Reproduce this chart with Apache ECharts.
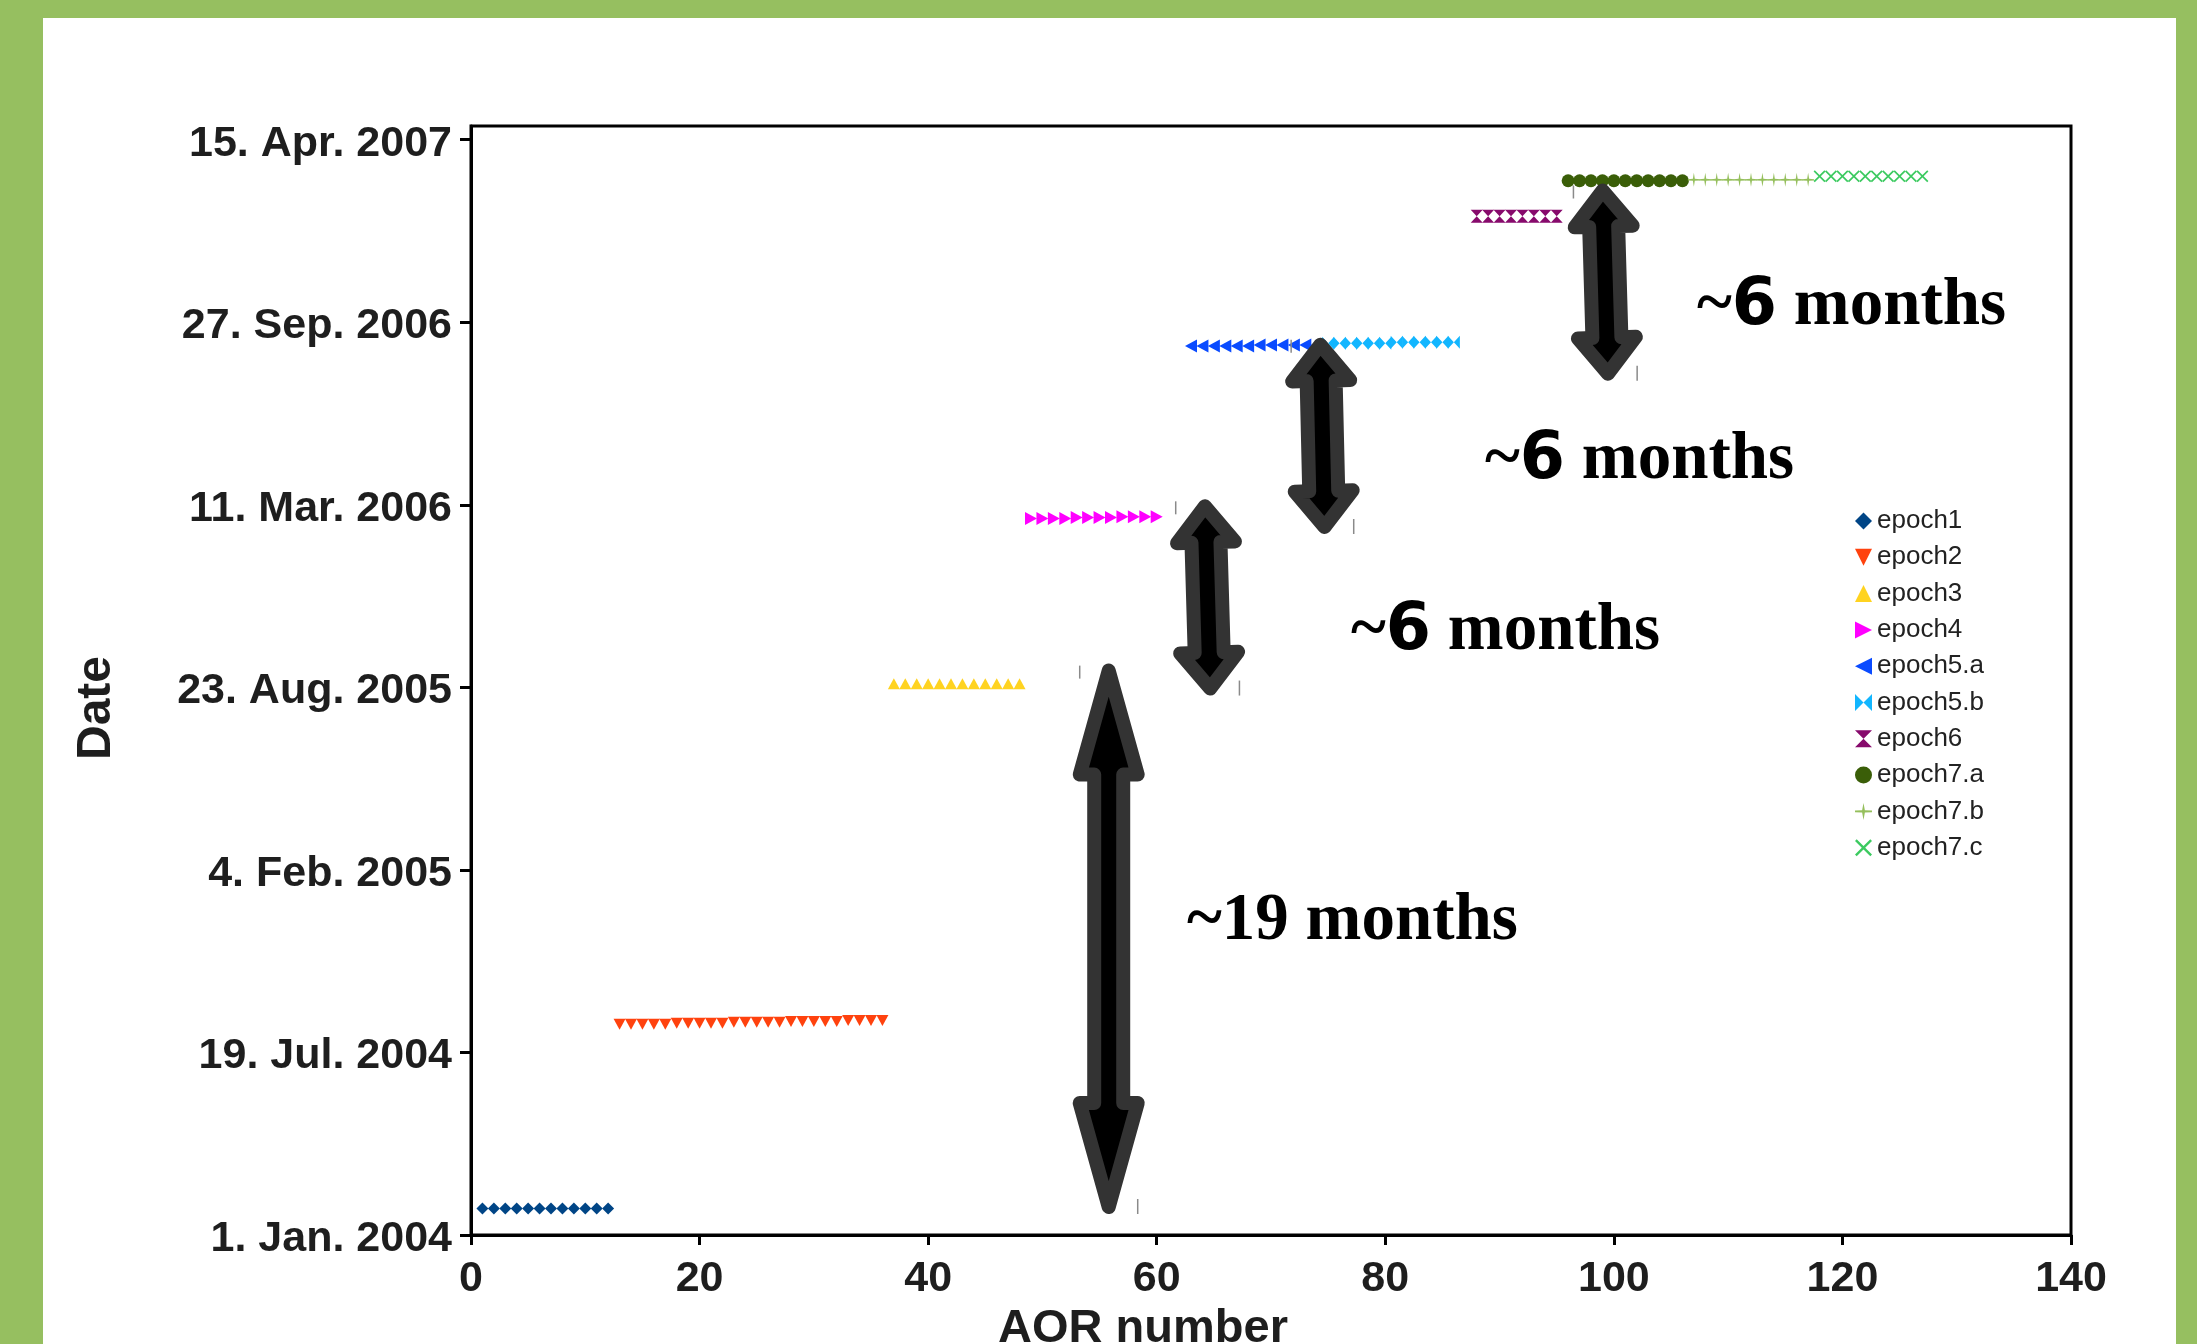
<!DOCTYPE html>
<html>
<head>
<meta charset="utf-8">
<script src="https://cdn.jsdelivr.net/npm/echarts@6/dist/echarts.min.js"></script>
<style>
html,body{margin:0;padding:0;background:#96bf60;}
#wrap{position:relative;width:2197px;height:1344px;background:#96bf60;overflow:hidden;}
#paper{position:absolute;left:43px;top:18px;width:2133px;height:1326px;background:#ffffff;}
#chart{position:absolute;left:0;top:0;width:2197px;height:1344px;}
</style>
</head>
<body>
<div id="wrap"><div id="paper"></div><div id="chart"></div></div>
<script>
// ---------------- data ----------------
const xTickValues = [0, 20, 40, 60, 80, 100, 120, 140];
const yTickValues = [0, 200, 400, 600, 800, 1000, 1200]; // days since 1 Jan 2004
const yTickLabels = ['1. Jan. 2004', '19. Jul. 2004', '4. Feb. 2005', '23. Aug. 2005',
                     '11. Mar. 2006', '27. Sep. 2006', '15. Apr. 2007'];

const seriesNames = ['epoch1', 'epoch2', 'epoch3', 'epoch4', 'epoch5.a', 'epoch5.b',
                     'epoch6', 'epoch7.a', 'epoch7.b', 'epoch7.c'];

const epoch1Aor = [1, 2, 3, 4, 5, 6, 7, 8, 9, 10, 11, 12];
const epoch1Date = ['2004-01-30', '2004-01-30', '2004-01-30', '2004-01-30', '2004-01-30', '2004-01-30',
                    '2004-01-30', '2004-01-30', '2004-01-30', '2004-01-30', '2004-01-30', '2004-01-30'];

const epoch2Aor = [13, 14, 15, 16, 17, 18, 19, 20, 21, 22, 23, 24, 25, 26, 27, 28, 29, 30, 31, 32, 33, 34, 35, 36];
const epoch2Date = ['2004-08-19', '2004-08-19', '2004-08-19', '2004-08-19', '2004-08-19',
                    '2004-08-20', '2004-08-20', '2004-08-20', '2004-08-20', '2004-08-20',
                    '2004-08-21', '2004-08-21', '2004-08-21', '2004-08-21', '2004-08-21',
                    '2004-08-22', '2004-08-22', '2004-08-22', '2004-08-22', '2004-08-22',
                    '2004-08-23', '2004-08-23', '2004-08-23', '2004-08-23'];

const epoch3Aor = [37, 38, 39, 40, 41, 42, 43, 44, 45, 46, 47, 48];
const epoch3Date = ['2005-08-27', '2005-08-27', '2005-08-27', '2005-08-27', '2005-08-27', '2005-08-27',
                    '2005-08-27', '2005-08-27', '2005-08-27', '2005-08-27', '2005-08-27', '2005-08-27'];

const epoch4Aor = [49, 50, 51, 52, 53, 54, 55, 56, 57, 58, 59, 60];
const epoch4Date = ['2006-02-24', '2006-02-24', '2006-02-24', '2006-02-24', '2006-02-25', '2006-02-25',
                    '2006-02-25', '2006-02-25', '2006-02-26', '2006-02-26', '2006-02-26', '2006-02-26'];

const epoch5aAor = [63, 64, 65, 66, 67, 68, 69, 70, 71, 72, 73, 74];
const epoch5aDate = ['2006-09-01', '2006-09-01', '2006-09-01', '2006-09-01', '2006-09-01', '2006-09-01',
                     '2006-09-02', '2006-09-02', '2006-09-02', '2006-09-02', '2006-09-02', '2006-09-02'];

const epoch5bAor = [75, 76, 77, 78, 79, 80, 81, 82, 83, 84, 85, 86];
const epoch5bDate = ['2006-09-04', '2006-09-04', '2006-09-04', '2006-09-04', '2006-09-04', '2006-09-04',
                     '2006-09-05', '2006-09-05', '2006-09-05', '2006-09-05', '2006-09-05', '2006-09-05'];

const epoch6Aor = [88, 89, 90, 91, 92, 93, 94, 95];
const epoch6Date = ['2007-01-21', '2007-01-21', '2007-01-21', '2007-01-21',
                    '2007-01-21', '2007-01-21', '2007-01-21', '2007-01-21'];

const epoch7aAor = [96, 97, 98, 99, 100, 101, 102, 103, 104, 105, 106];
const epoch7aDate = ['2007-03-01', '2007-03-01', '2007-03-01', '2007-03-01', '2007-03-01', '2007-03-01',
                     '2007-03-01', '2007-03-01', '2007-03-01', '2007-03-01', '2007-03-01'];

const epoch7bAor = [107, 108, 109, 110, 111, 112, 113, 114, 115, 116, 117];
const epoch7bDate = ['2007-03-02', '2007-03-02', '2007-03-02', '2007-03-02', '2007-03-02', '2007-03-02',
                     '2007-03-02', '2007-03-02', '2007-03-02', '2007-03-02', '2007-03-02'];

const epoch7cAor = [118, 119, 120, 121, 122, 123, 124, 125, 126, 127];
const epoch7cDate = ['2007-03-06', '2007-03-06', '2007-03-06', '2007-03-06', '2007-03-06',
                     '2007-03-06', '2007-03-06', '2007-03-06', '2007-03-06', '2007-03-06'];

// annotation arrows (data coordinates: AOR number, days since 1 Jan 2004)
const arrowTopAor = [55.8, 64.2, 74.3, 99.0];
const arrowTopDay = [626, 806, 983, 1152];
const arrowBottomAor = [55.8, 64.7, 74.7, 99.5];
const arrowBottomDay = [23, 591, 768, 936];
const arrowLabels = ['~19 months', '~6 months', '~6 months', '~6 months'];

// ---------------- helpers & styles ----------------
const DAY0 = Date.UTC(2004, 0, 1);
function dayOf(s) {
  const p = s.split('-').map(Number);
  return (Date.UTC(p[0], p[1] - 1, p[2]) - DAY0) / 86400000;
}
function pts(aor, dates) { return aor.map((a, i) => [a, dayOf(dates[i])]); }

const colors = ['#004586', '#ff420e', '#ffd320', '#ff00ff', '#0a4bff', '#12b6ff',
                '#870a6c', '#3a5e08', '#95bf5c', '#3cca60'];
const symbols = [
  'diamond',
  'path://M0,0 L10,0 L5,10 Z',
  'path://M5,0 L10,10 L0,10 Z',
  'path://M0,0 L10,5 L0,10 Z',
  'path://M10,0 L0,5 L10,10 Z',
  'path://M0,0 L5,5 L0,10 Z M10,0 L5,5 L10,10 Z',
  'path://M0,0 L10,0 L5,5 Z M0,10 L10,10 L5,5 Z',
  'circle',
  'path://M5,0 L5.8,4.3 L10,4.5 L10,5.5 L5.8,5.7 L5,10 L4.2,5.7 L0,5.5 L0,4.5 L4.2,4.3 Z',
  'path://M0,1 L1,0 L5,4 L9,0 L10,1 L6,5 L10,9 L9,10 L5,6 L1,10 L0,9 L4,5 Z'
];
const symbolSizes = [[12, 12], [12, 11], [12, 11], [12, 13], [12, 13], [12, 13], [12, 13], [13, 13], [12, 14], [12, 12]];
const seriesData = [
  pts(epoch1Aor, epoch1Date), pts(epoch2Aor, epoch2Date), pts(epoch3Aor, epoch3Date),
  pts(epoch4Aor, epoch4Date), pts(epoch5aAor, epoch5aDate), pts(epoch5bAor, epoch5bDate),
  pts(epoch6Aor, epoch6Date), pts(epoch7aAor, epoch7aDate), pts(epoch7bAor, epoch7bDate),
  pts(epoch7cAor, epoch7cDate)
];

const arrowHeadLen = [104, 36, 36, 36];
const HEAD_HALF = 29, SHAFT_HALF = 14.5, OUTLINE = 14;

function renderArrow(params, api) {
  const i = params.dataIndex;
  const T = api.coord([api.value(0), api.value(1)]);
  const B = api.coord([api.value(2), api.value(3)]);
  let dx = B[0] - T[0], dy = B[1] - T[1];
  const len = Math.sqrt(dx * dx + dy * dy);
  dx /= len; dy /= len;
  const nx = -dy, ny = dx;
  const inset = OUTLINE / 2;
  const t = [T[0] + dx * inset, T[1] + dy * inset];
  const b = [B[0] - dx * inset, B[1] - dy * inset];
  const hl = arrowHeadLen[i];
  const p = (base, along, side) => [base[0] + dx * along + nx * side, base[1] + dy * along + ny * side];
  const points = [
    t,
    p(t, hl, HEAD_HALF), p(t, hl, SHAFT_HALF),
    p(b, -hl, SHAFT_HALF), p(b, -hl, HEAD_HALF),
    b,
    p(b, -hl, -HEAD_HALF), p(b, -hl, -SHAFT_HALF),
    p(t, hl, -SHAFT_HALF), p(t, hl, -HEAD_HALF)
  ];
  return {
    type: 'group',
    children: [
      { type: 'polygon', shape: { points: points },
        style: { fill: '#000', stroke: '#333333', lineWidth: OUTLINE, lineJoin: 'round' } },
      { type: 'line', shape: { x1: T[0] - 29, y1: T[1] + 2, x2: T[0] - 29, y2: T[1] + 15 },
        style: { stroke: '#8a8a8a', lineWidth: 1.5 } },
      { type: 'line', shape: { x1: B[0] + 29, y1: B[1] - 15, x2: B[0] + 29, y2: B[1] },
        style: { stroke: '#8a8a8a', lineWidth: 1.5 } }
    ]
  };
}

const scatterSeries = seriesNames.map((name, i) => ({
  name: name,
  type: 'scatter',
  data: seriesData[i],
  symbol: symbols[i],
  symbolSize: symbolSizes[i],
  itemStyle: { color: colors[i], opacity: 1 },
  emphasis: { disabled: true },
  z: 3
}));

const arrowSeries = {
  name: 'arrows',
  type: 'custom',
  coordinateSystem: 'cartesian2d',
  silent: true,
  z: 5,
  encode: { x: [0, 2], y: [1, 3] },
  data: arrowTopAor.map((a, i) => [a, arrowTopDay[i], arrowBottomAor[i], arrowBottomDay[i]]),
  renderItem: renderArrow
};

// label placement (pixels) for the annotation texts
const labelPos = [[1187, 922], [1697, 307], [1485, 461], [1351, 632]];
const richStyle = {
  a: { fontFamily: 'Liberation Serif', fontWeight: 'bold', fontSize: 67, fill: '#000', color: '#000' },
  b: { fontFamily: 'DejaVu Sans', fontWeight: 'bold', fontSize: 65, fill: '#000', color: '#000' }
};
function richText(s) {
  const m = s.match(/^~(\d+)( months)$/);
  if (m && m[1] === '6') return '{a|~}{b|6}{a|' + m[2] + '}';
  return '{a|' + s + '}';
}
const graphics = arrowLabels.map((s, i) => ({
  type: 'text',
  x: labelPos[i][0],
  y: labelPos[i][1],
  z: 100,
  silent: true,
  style: { text: richText(s), rich: richStyle, fill: '#000', align: 'left', verticalAlign: 'middle' }
}));

const FONT = 'Liberation Sans, Arial, sans-serif';
const chart = echarts.init(document.getElementById('chart'), null, { renderer: 'canvas' });
chart.setOption({
  backgroundColor: 'transparent',
  animation: false,
  grid: { left: 471, right: 126, top: 126, bottom: 109, containLabel: false, outerBoundsMode: 'none',
          show: true, borderColor: '#000', borderWidth: 3, backgroundColor: 'transparent' },
  legend: {
    data: seriesNames,
    orient: 'vertical',
    left: 1850, top: 503,
    itemWidth: 17, itemHeight: 17, itemGap: 10.3,
    selectedMode: false,
    textStyle: { fontFamily: FONT, fontSize: 26, color: '#222', lineHeight: 26 }
  },
  xAxis: {
    type: 'value', min: 0, max: 140, interval: 20,
    axisLine: { show: true, onZero: false, lineStyle: { color: '#000', width: 3 } },
    axisTick: { show: true, length: 10, lineStyle: { color: '#000', width: 3 } },
    axisLabel: { margin: 23, fontFamily: FONT, fontWeight: 'bold', fontSize: 43, color: '#1e1e1e',
                 customValues: xTickValues },
    splitLine: { show: false },
    name: 'AOR number', nameLocation: 'middle', nameGap: 57,
    nameTextStyle: { fontFamily: FONT, fontWeight: 'bold', fontSize: 47, color: '#1e1e1e', padding: [0, 256, 0, 0] }
  },
  yAxis: {
    type: 'value', min: 0, max: 1215, interval: 200,
    axisLine: { show: true, onZero: false, lineStyle: { color: '#000', width: 3 } },
    axisTick: { show: true, length: 11, lineStyle: { color: '#000', width: 3 }, customValues: yTickValues },
    axisLabel: {
      margin: 19, fontFamily: FONT, fontWeight: 'bold', fontSize: 43, color: '#1e1e1e',
      verticalAlign: 'top', lineHeight: 8,
      customValues: yTickValues,
      formatter: function (v) { const k = yTickValues.indexOf(Math.round(v)); return k >= 0 ? yTickLabels[k] : ''; }
    },
    splitLine: { show: false },
    name: 'Date', nameLocation: 'middle', nameRotate: 90, nameGap: 350,
    nameTextStyle: { fontFamily: FONT, fontWeight: 'bold', fontSize: 48, color: '#1e1e1e', padding: [0, 55, 0, 0] }
  },
  series: scatterSeries.concat([arrowSeries]),
  graphic: graphics
});
</script>
</body>
</html>
